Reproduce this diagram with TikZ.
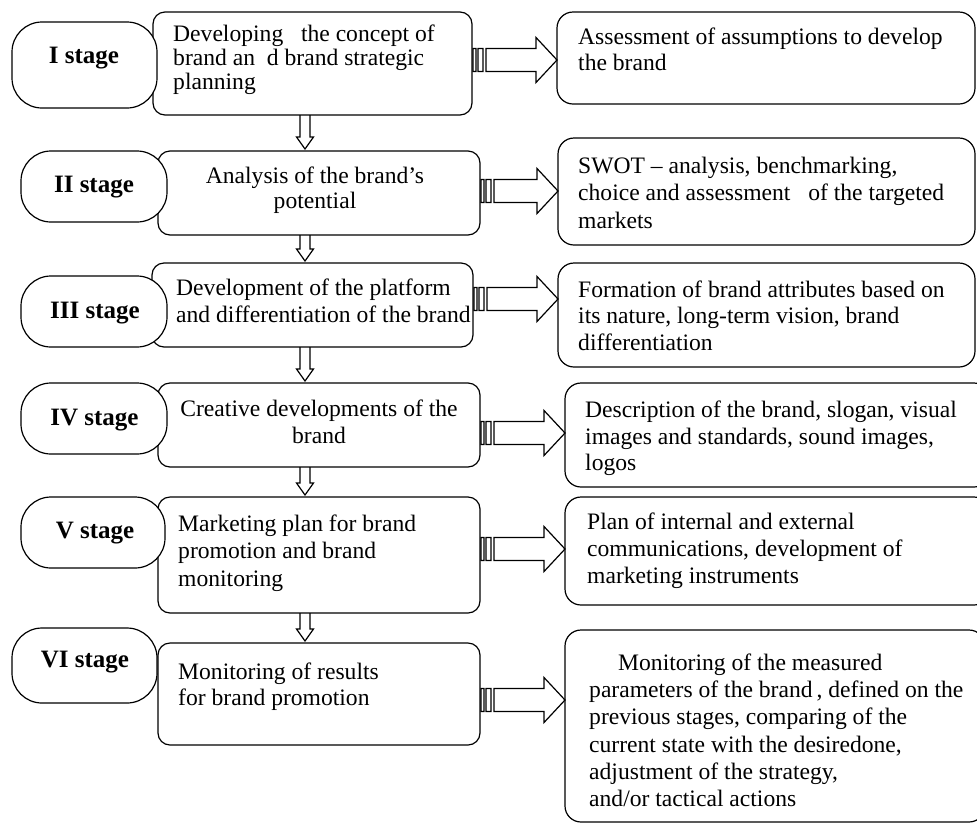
\documentclass[tikz,border=0pt]{standalone}
\usepackage{fontspec}
\setmainfont{Liberation Serif}
\usetikzlibrary{calc}
\newcommand\mystrut{\rule{0pt}{18pt}}
% horizontal striped block arrow: from node, to node, y (pixels)
\newcommand\harr[3]{%
  \draw[arrline] let \p1=(#1.east), \p2=(#2.west), \p3=(0,#3) in
    (\x1+1pt,\y3-11.5pt) rectangle (\x1+4pt,\y3+11.5pt)
    (\x1+6pt,\y3-11.5pt) rectangle (\x1+11pt,\y3+11.5pt)
    (\x1+14pt,\y3-11.5pt) -- (\x2-21pt,\y3-11.5pt) -- (\x2-21pt,\y3-22.5pt)
    -- (\x2,\y3) -- (\x2-21pt,\y3+22.5pt) -- (\x2-21pt,\y3+11.5pt)
    -- (\x1+14pt,\y3+11.5pt) -- cycle;}
% vertical block arrow between middle boxes
\newcommand\varr[2]{%
  \draw[arrline] let \p1=(#1.south), \p2=(#2.north) in
    (300pt,\y1) -- (300pt,\y2+14pt) -- (296.5pt,\y2+14pt) -- (305pt,\y2+2pt)
    -- (313.5pt,\y2+14pt) -- (310pt,\y2+14pt) -- (310pt,\y1);}
\begin{document}
\begin{tikzpicture}[x=1pt,y=-1pt,
  lw/.style={line width=1.2pt},
  midbox/.style={draw, lw, rounded corners=12pt, anchor=north west, inner sep=0pt, outer sep=0pt},
  rbox/.style={draw, lw, rounded corners=16pt, anchor=north west, inner sep=0pt, outer sep=0pt},
  stagebox/.style={draw, lw, fill=white, rounded corners=30pt, anchor=north west, inner sep=0pt, outer sep=0pt},
  stagetxt/.style={inner sep=0pt, anchor=base, font=\bfseries\fontsize{25}{28}\selectfont},
  txt/.style={inner sep=0pt, align=left, anchor=north west, font=\fontsize{23.6}{27}\selectfont},
  ctxt/.style={inner sep=0pt, align=center, anchor=north, font=\fontsize{23.6}{27}\selectfont},
  arrline/.style={draw, lw, line join=miter}
]
\useasboundingbox (0,0) rectangle (977,823);

% middle boxes
\node[midbox, minimum width=319pt, minimum height=103pt] (m1) at (153,12) {};
\node[midbox, minimum width=322pt, minimum height=84pt] (m2) at (158,151) {};
\node[midbox, minimum width=321pt, minimum height=84pt] (m3) at (152,263) {};
\node[midbox, minimum width=322pt, minimum height=84pt] (m4) at (158,383) {};
\node[midbox, minimum width=322pt, minimum height=116pt] (m5) at (158,497) {};
\node[midbox, minimum width=322pt, minimum height=102pt] (m6) at (158,643) {};

% right boxes
\node[rbox, minimum width=418pt, minimum height=92pt] (r1) at (557,12) {};
\node[rbox, minimum width=417pt, minimum height=107pt] (r2) at (558,138) {};
\node[rbox, minimum width=417pt, minimum height=104pt] (r3) at (558,263) {};
\node[rbox, minimum width=425pt, minimum height=104pt] (r4) at (565,383) {};
\node[rbox, minimum width=425pt, minimum height=108pt] (r5) at (565,497) {};
\node[rbox, minimum width=420pt, minimum height=192pt] (r6) at (565,630) {};

% stage boxes
\node[stagebox, minimum width=145pt, minimum height=86pt] (s1) at (12,22) {};
\node[stagebox, minimum width=146pt, minimum height=71pt] (s2) at (21,151) {};
\node[stagebox, minimum width=146pt, minimum height=71pt] (s3) at (21,276) {};
\node[stagebox, minimum width=146pt, minimum height=71pt] (s4) at (21,383) {};
\node[stagebox, minimum width=144pt, minimum height=71pt] (s5) at (21,497) {};
\node[stagebox, minimum width=145pt, minimum height=75pt] (s6) at (12,628) {};

\node[stagetxt] (s1t) at (84,63) {I stage};
\node[stagetxt] (s2t) at (94,192) {II stage};
\node[stagetxt] (s3t) at (95,318) {III stage};
\node[stagetxt] (s4t) at (94.5,425) {IV stage};
\node[stagetxt] (s5t) at (95,538) {V stage};
\node[stagetxt] (s6t) at (85,667) {VI stage};

% middle texts
\node[txt, font=\fontsize{23.6}{24.2}\selectfont] (m1t) at (173,23)
  {\mystrut Developing\ \ \ the concept of\\brand an\ \ d brand strategic\\planning};
\node[ctxt, font=\fontsize{23.6}{25.5}\selectfont] (m2t) at (315,165)
  {\mystrut Analysis of the brand's\\potential};
\node[txt] (m3t) at (176,277)
  {\mystrut Development of the platform\\and differentiation of the brand};
\node[ctxt, font=\fontsize{23.6}{27.5}\selectfont] (m4t) at (319,398)
  {\mystrut Creative developments of the\\brand};
\node[txt, font=\fontsize{23.6}{27.5}\selectfont] (m5t) at (178,513)
  {\mystrut Marketing plan for brand\\promotion and brand\\monitoring};
\node[txt, font=\fontsize{23.6}{26}\selectfont] (m6t) at (178,661)
  {\mystrut Monitoring of results\\for brand promotion};

% right texts
\node[txt, font=\fontsize{23.6}{26.5}\selectfont] (r1t) at (578,26)
  {\mystrut Assessment of assumptions to develop\\the brand};
\node[txt, font=\fontsize{23.6}{27.5}\selectfont] (r2t) at (578,155)
  {\mystrut SWOT -- analysis, benchmarking,\\choice and assessment\ \ \ of the targeted\\markets};
\node[txt, font=\fontsize{23.6}{26.5}\selectfont] (r3t) at (578,279)
  {\mystrut Formation of brand attributes based on\\its nature, long-term vision, brand\\differentiation};
\node[txt, font=\fontsize{23.6}{26.8}\selectfont] (r4t) at (585,399)
  {\mystrut Description of the brand, slogan, visual\\images and standards, sound images,\\logos};
\node[txt] (r5t) at (587,511)
  {\mystrut Plan of internal and external\\communications, development of\\marketing instruments};
\node[txt, font=\fontsize{23.6}{27.3}\selectfont] (r6t) at (589,652)
  {\mystrut\hspace*{29pt}Monitoring of the measured\\parameters of the brand\,, defined on the\\previous stages, comparing of the\\current state with the desiredone,\\adjustment of the strategy,\\and/or tactical actions};

% arrows
\harr{m1}{r1}{60}
\harr{m2}{r2}{191}
\harr{m3}{r3}{299}
\harr{m4}{r4}{433}
\harr{m5}{r5}{549}
\harr{m6}{r6}{700}

\varr{m1}{m2}
\varr{m2}{m3}
\varr{m3}{m4}
\varr{m4}{m5}
\varr{m5}{m6}
\end{tikzpicture}
\end{document}
